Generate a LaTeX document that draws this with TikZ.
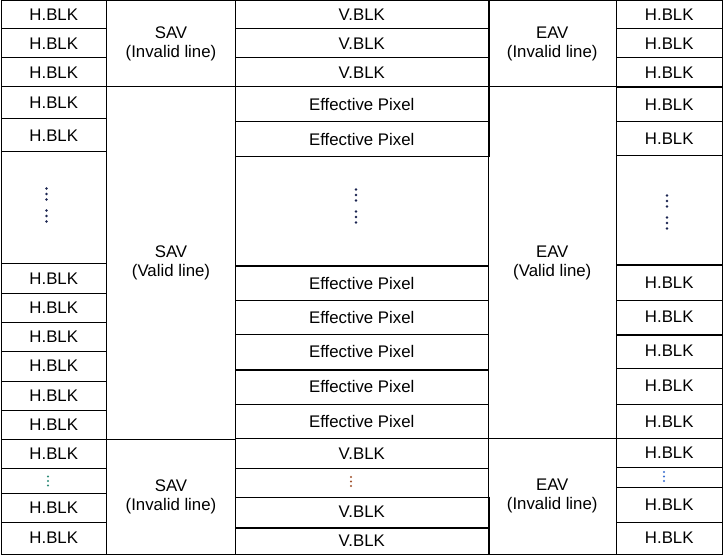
\documentclass[tikz,border=0pt]{standalone}
\usepackage{fontspec}
\setmainfont{Liberation Sans}
\definecolor{dotnavy}{HTML}{1A2450}
\definecolor{dotteal}{HTML}{2E8B78}
\definecolor{dotbrown}{HTML}{A0522D}
\definecolor{dotblue}{HTML}{3A6FD0}
% a cell spanning x from #2 to #3 and y from #4 to #5 (y grows downwards)
\newcommand{\gridcell}[6]{%
  \node[cellbox, minimum width={(#3)-(#2)}, minimum height={(#5)-(#4)}]
    (#1) at ({((#2)+(#3))/2},{((#4)+(#5))/2}) {#6};}
\begin{document}
\begin{tikzpicture}[x=1pt,y=-1pt,
  cellbox/.style={draw=black, line width=1pt, inner sep=0pt, align=center,
    anchor=center, font=\fontsize{16.8}{19}\selectfont},
  thickrule/.style={draw=black, line width=2pt},
  dotmark/.style={fill=#1, draw=none}]
\useasboundingbox (0,0) rectangle (723,556);
\fill[white] (0,0) rectangle (723,556);

% left column of horizontal blanking cells
\foreach \n/\ya/\yb/\t in {a1/1/29/H.BLK, a2/29/58/H.BLK, a3/58/87/H.BLK,
    a4/87/119/H.BLK, a5/119/151.5/H.BLK, a6/151.5/264/{}, a7/264/293/H.BLK,
    a8/293/322/H.BLK, a9/322/351/H.BLK, a10/351/381/H.BLK, a11/381/410/H.BLK,
    a12/410/439/H.BLK, a13/439/468/H.BLK, a14/468/493/{}, a15/493/522/H.BLK,
    a16/522/554/H.BLK}
  {\gridcell{\n}{1}{106.5}{\ya}{\yb}{\t}}

% start of active video codes
\gridcell{s1}{106.5}{235.5}{1}{87}{SAV\\(Invalid line)}
\gridcell{s2}{106.5}{235.5}{87}{439}{SAV\\(Valid line)}
\gridcell{s3}{106.5}{235.5}{439}{554}{SAV\\(Invalid line)}

% picture data column
\foreach \n/\ya/\yb/\t in {c1/1/29/V.BLK, c2/29/58/V.BLK, c3/58/87/V.BLK,
    c4/87/122/Effective Pixel, c5/122/157/Effective Pixel, c6/157/266/{},
    c7/266/300/Effective Pixel, c8/300/334/Effective Pixel,
    c9/334/369/Effective Pixel, c10/369/404/Effective Pixel,
    c11/404/438.5/Effective Pixel, c12/438.5/468/V.BLK, c13/468/497/{},
    c14/497/527/V.BLK, c15/527/554/V.BLK}
  {\gridcell{\n}{235.5}{488}{\ya}{\yb}{\t}}

% end of active video codes
\gridcell{e1}{488}{616.5}{1}{87}{EAV\\(Invalid line)}
\gridcell{e2}{488}{616.5}{87}{438.5}{EAV\\(Valid line)}
\gridcell{e3}{488}{616.5}{438.5}{554}{EAV\\(Invalid line)}

% right column of horizontal blanking cells
\foreach \n/\ya/\yb/\t in {b1/1/29/H.BLK, b2/29/58/H.BLK, b3/58/87/H.BLK,
    b4/87/122/H.BLK, b5/122/156/H.BLK, b6/156/265/{}, b7/265/300/H.BLK,
    b8/300/334/H.BLK, b9/334/368/H.BLK, b10/368/404/H.BLK, b11/404/438.5/H.BLK,
    b12/438.5/467/H.BLK, b13/467/487/{}, b14/487/522/H.BLK, b15/522/554/H.BLK}
  {\gridcell{\n}{616.5}{722}{\ya}{\yb}{\t}}

% heavier rules
\draw[thickrule] (b3.south west) -- (b3.south east);
\draw[thickrule] (c9.south west) -- (c9.south east);
\draw[thickrule] (c14.south west) -- (c14.south east);
\draw[thickrule] (b8.south west) -- (b8.south east);
\draw[thickrule] (c1.north east) -- (c5.south east);
\draw[thickrule] (c14.north east) -- (c15.south east);

% vertical ellipses in the tall cells
\foreach \x/\y in {46.5/0, 356/1, 667/7}
  \foreach \d in {188.5,194,199.5,210.5,216,221.5}
    \fill[dotmark=dotnavy] (\x,\d+\y) circle (1.4);

% small ellipses in the short cells
\foreach \d in {0,4.5,9} {
  \fill[dotmark=dotteal] (48,476.5+\d) circle (1.1);
  \fill[dotmark=dotbrown] (351,477+\d) circle (1.1);
  \fill[dotmark=dotblue] (664,472+\d) circle (1.1);
}
\end{tikzpicture}
\end{document}
